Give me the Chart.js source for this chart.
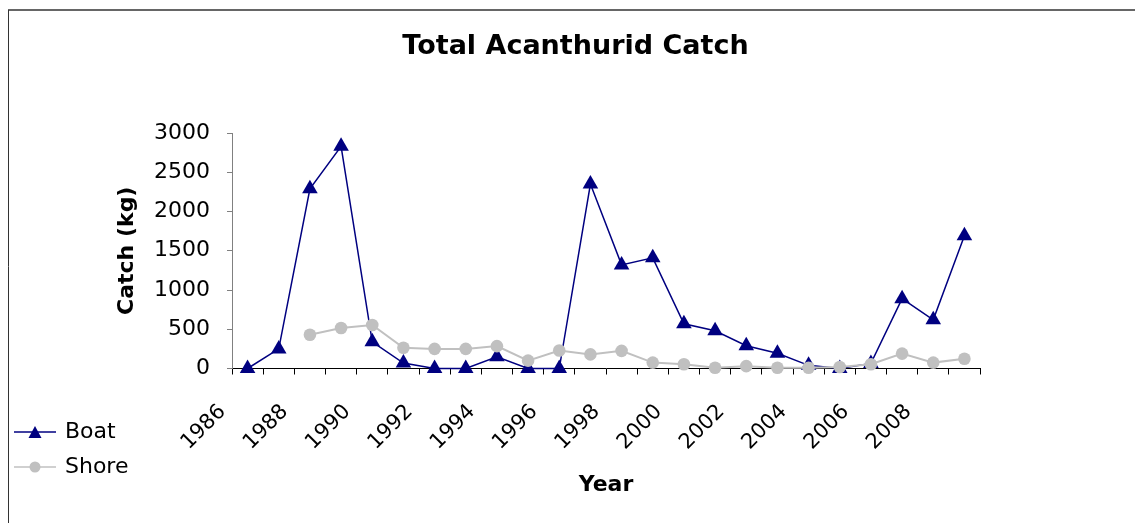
<!DOCTYPE html>
<html>
<head>
<meta charset="utf-8">
<script src="https://cdn.jsdelivr.net/npm/chart.js@4/dist/chart.umd.min.js"></script>
<style>
html,body{margin:0;padding:0;background:#fff;}
#wrap{width:1135px;height:523px;position:relative;}
</style>
</head>
<body>
<div id="wrap"><canvas id="c" width="1135" height="523"></canvas></div>
<script>
const chartTitle = 'Total Acanthurid Catch';
const xAxisTitle = 'Year';
const yAxisTitle = 'Catch (kg)';
const years = ['1986','1987','1988','1989','1990','1991','1992','1993','1994','1995','1996','1997',
               '1998','1999','2000','2001','2002','2003','2004','2005','2006','2007','2008','2009'];
const boatCatch = [0, 250, 2290, 2830, 340, 70, 0, 0, 150, 0, 0, 2350,
                   1320, 1410, 570, 480, 290, 195, 40, 0, 65, 890, 620, 1690];
const shoreCatch = [null, null, 430, 515, 555, 265, 250, 250, 285, 100, 230, 180,
                    225, 75, 55, 10, 30, 10, 10, 20, 55, 190, 75, 125];
const yMin = 0, yMax = 3000, yStep = 500;

Chart.defaults.font.family = "'DejaVu Sans', sans-serif";
Chart.defaults.color = '#000';

function legendIcon(kind, color) {
  const c = document.createElement('canvas');
  c.width = 42; c.height = 18;
  const g = c.getContext('2d');
  g.strokeStyle = color; g.lineWidth = 1.5;
  g.beginPath(); g.moveTo(0, 9); g.lineTo(42, 9); g.stroke();
  g.fillStyle = color;
  if (kind === 'tri') {
    g.beginPath(); g.moveTo(21, 3); g.lineTo(27.5, 15); g.lineTo(14.5, 15); g.closePath(); g.fill();
  } else {
    g.beginPath(); g.arc(21, 9, 5.5, 0, Math.PI * 2); g.fill();
  }
  return c;
}
const icons = [legendIcon('tri', '#000080'), legendIcon('dot', '#C0C0C0')];

const framePlugin = {
  id: 'frame',
  beforeDraw(chart) {
    const ctx = chart.ctx;
    ctx.save();
    ctx.fillStyle = '#fff';
    ctx.fillRect(0, 0, chart.width, chart.height);
    ctx.strokeStyle = '#333';
    ctx.lineWidth = 1.5;
    ctx.beginPath(); ctx.moveTo(8, 10); ctx.lineTo(chart.width, 10); ctx.stroke();
    ctx.lineWidth = 1;
    ctx.beginPath(); ctx.moveTo(8.5, 10); ctx.lineTo(8.5, chart.height); ctx.stroke();
    ctx.restore();
  }
};
const layoutTweak = {
  id: 'layoutTweak',
  afterLayout(chart) {
    if (chart.titleBlock) { chart.titleBlock.left = 16; chart.titleBlock.right = 1135; }
    if (chart.legend) { chart.legend.right = 220; chart.legend.width = chart.legend.right - chart.legend.left; }
  }
};

new Chart(document.getElementById('c'), {
  type: 'line',
  data: {
    labels: years,
    datasets: [
      {
        label: 'Boat', data: boatCatch, order: 1,
        borderColor: '#000080', backgroundColor: '#000080', borderWidth: 1.5,
        pointStyle: 'triangle', pointRadius: 9, pointBorderWidth: 0,
        pointBackgroundColor: '#000080', tension: 0, clip: false
      },
      {
        label: 'Shore', data: shoreCatch, order: 0,
        borderColor: '#C0C0C0', backgroundColor: '#C0C0C0', borderWidth: 2,
        pointStyle: 'circle', pointRadius: 6.3, pointBorderWidth: 0,
        pointBackgroundColor: '#C0C0C0', tension: 0, clip: false, spanGaps: false
      }
    ]
  },
  options: {
    responsive: false,
    animation: false,
    devicePixelRatio: 1,
    layout: { padding: { left: 3, top: 10, right: 155, bottom: 32 } },
    plugins: {
      tooltip: { enabled: false },
      title: {
        display: true, text: chartTitle, color: '#000',
        font: { size: 27, weight: 'bold' },
        padding: { top: 21, bottom: 69.6 }
      },
      legend: {
        position: 'left', align: 'end', maxWidth: 107,
        labels: {
          usePointStyle: true, pointStyleWidth: 38, padding: 13,
          font: { size: 22 }, color: '#000',
          generateLabels: (chart) => chart.data.datasets.map((ds, i) => ({
            text: ds.label, pointStyle: icons[i], fillStyle: ds.borderColor,
            strokeStyle: ds.borderColor, lineWidth: 0, hidden: false,
            datasetIndex: i, fontColor: '#000'
          }))
        }
      }
    },
    scales: {
      x: {
        offset: true,
        afterFit(scale) { scale.height = 122.5; },
        border: { display: true, color: '#000', width: 1 },
        grid: { offset: true, drawOnChartArea: false, drawTicks: true, tickLength: 6, color: '#000' },
        ticks: {
          autoSkip: false, maxRotation: 45, minRotation: 45, padding: 25, labelOffset: -25,
          font: { size: 21 }, color: '#000',
          callback(value, index) { return index % 2 === 0 ? this.getLabelForValue(value) : ''; }
        },
        title: { display: true, text: xAxisTitle, font: { size: 22, weight: 'bold' }, color: '#000',
                 padding: { top: 4, bottom: -7 } }
      },
      y: {
        min: yMin, max: yMax,
        afterFit(scale) { scale.width = 122; },
        border: { display: true, color: '#808080', width: 1 },
        grid: { drawOnChartArea: false, drawTicks: true, tickLength: 5, color: '#808080' },
        ticks: { stepSize: yStep, padding: 17, font: { size: 22 }, color: '#000',
                 callback: (v) => String(v) },
        title: { display: true, text: yAxisTitle, font: { size: 22, weight: 'bold' }, color: '#000',
                 padding: { top: 4, bottom: 4 } }
      }
    }
  },
  plugins: [framePlugin, layoutTweak]
});
</script>
</body>
</html>
